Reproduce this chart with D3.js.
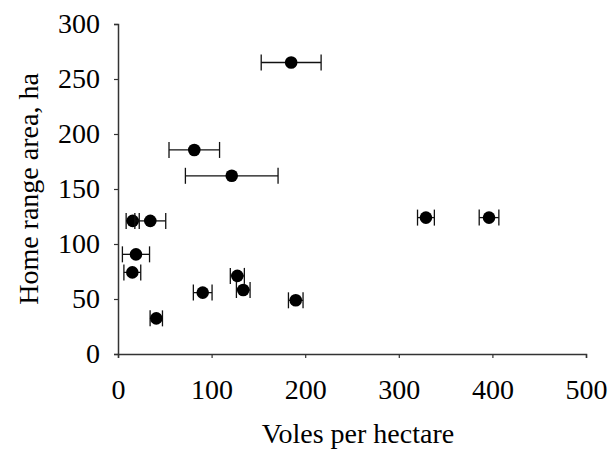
<!DOCTYPE html>
<html>
<head>
<meta charset="utf-8">
<script src="https://cdn.jsdelivr.net/npm/d3@7/dist/d3.min.js"></script>
<style>
  html, body { margin: 0; padding: 0; background: #fff; }
  svg { display: block; }
  text { font-family: "Liberation Serif", "Times New Roman", serif; fill: #000; }
</style>
</head>
<body>
<svg id="chart" width="609" height="450"></svg>
<script>
// Vole density (per hectare) against home range area (ha), with horizontal error bars
const voleDensity = [185, 81.5, 121.5, 15.7, 34.5, 19.2, 15.3, 40.9, 90.5, 127.5, 133.8, 189.9, 329, 396.4];
const densityError = [32, 27, 49.5, 7, 16.5, 14.5, 9, 6.6, 10, 7.5, 7.3, 7.8, 9, 10.5];
const homeRange = [265, 185.5, 162, 121, 121, 90.6, 74.2, 32.4, 55.8, 71, 58.2, 48.8, 124, 124];

const xTicks = [0, 100, 200, 300, 400, 500];
const yTicks = [0, 50, 100, 150, 200, 250, 300];

const xTitle = "Voles per hectare";
const yTitle = "Home range area, ha";

const svg = d3.select("#chart");
const plotLeft = 118, plotRight = 586, plotTop = 24, plotBottom = 354;

const x = d3.scaleLinear().domain([0, 500]).range([plotLeft, plotRight]);
const y = d3.scaleLinear().domain([0, 300]).range([plotBottom, plotTop]);

const axisColor = "#333";
const labelSize = 28;

// x axis
const gx = svg.append("g")
  .attr("transform", `translate(0,${plotBottom})`)
  .call(d3.axisBottom(x).tickValues(xTicks).tickSize(4).tickPadding(21).tickFormat(d3.format("d")));
gx.select(".domain").attr("stroke", axisColor).attr("stroke-width", 1.5);
gx.selectAll(".tick line").attr("stroke", axisColor).attr("stroke-width", 1.2);
gx.selectAll(".tick text").attr("font-size", labelSize).attr("fill", "#000");

// y axis
const gy = svg.append("g")
  .attr("transform", `translate(${plotLeft},0)`)
  .call(d3.axisLeft(y).tickValues(yTicks).tickSize(4).tickPadding(14).tickFormat(d3.format("d")));
gy.select(".domain").attr("stroke", axisColor).attr("stroke-width", 1.5);
gy.selectAll(".tick line").attr("stroke", axisColor).attr("stroke-width", 1.2);
gy.selectAll(".tick text").attr("font-size", labelSize).attr("fill", "#000");

// axis titles
svg.append("text")
  .attr("x", 358)
  .attr("y", 443)
  .attr("text-anchor", "middle")
  .attr("font-size", 28)
  .text(xTitle);

svg.append("text")
  .attr("transform", `translate(38,${(plotTop + plotBottom) / 2}) rotate(-90)`)
  .attr("text-anchor", "middle")
  .attr("font-size", 28)
  .text(yTitle);

// points with error bars
const data = voleDensity.map((v, i) => ({ x: v, e: densityError[i], y: homeRange[i] }));
const cap = 8;

const pts = svg.append("g").selectAll("g").data(data).join("g");

pts.append("line")
  .attr("x1", d => x(d.x - d.e)).attr("x2", d => x(d.x + d.e))
  .attr("y1", d => y(d.y)).attr("y2", d => y(d.y))
  .attr("stroke", "#111").attr("stroke-width", 1.3);

pts.append("line")
  .attr("x1", d => x(d.x - d.e)).attr("x2", d => x(d.x - d.e))
  .attr("y1", d => y(d.y) - cap).attr("y2", d => y(d.y) + cap)
  .attr("stroke", "#111").attr("stroke-width", 1.3);

pts.append("line")
  .attr("x1", d => x(d.x + d.e)).attr("x2", d => x(d.x + d.e))
  .attr("y1", d => y(d.y) - cap).attr("y2", d => y(d.y) + cap)
  .attr("stroke", "#111").attr("stroke-width", 1.3);

pts.append("circle")
  .attr("cx", d => x(d.x)).attr("cy", d => y(d.y))
  .attr("r", 6.3)
  .attr("fill", "#000");
</script>
</body>
</html>
